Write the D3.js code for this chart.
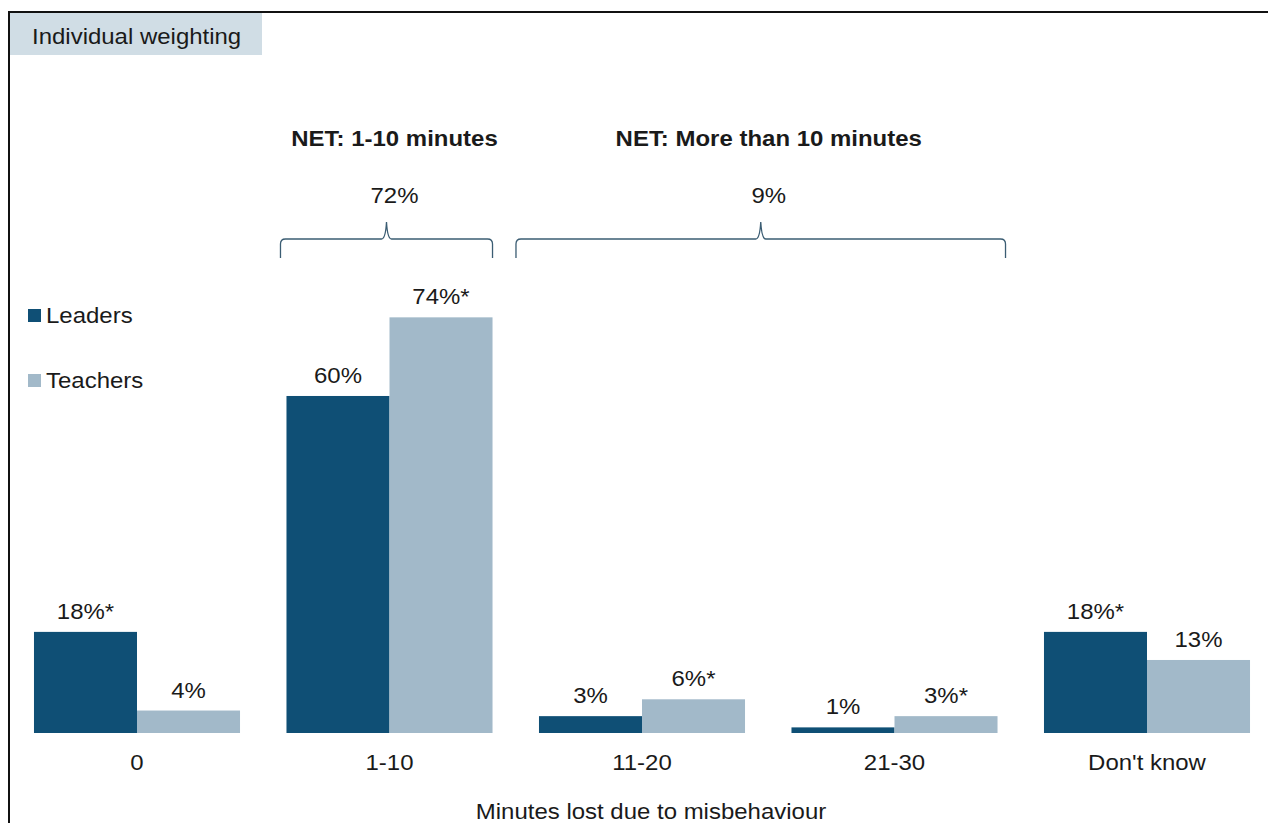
<!DOCTYPE html>
<html><head><meta charset="utf-8">
<script src="https://cdn.jsdelivr.net/npm/d3@7"></script>
<style>body{margin:0;background:#fff}svg{display:block;font-family:"Liberation Sans",Arial,sans-serif}</style>
</head><body>
<svg id="c" width="1268" height="823"></svg>
<script>
const categories = ["0", "1-10", "11-20", "21-30", "Don't know"];
const seriesNames = ["Leaders", "Teachers"];
const leaders = [18, 60, 3, 1, 18];
const teachers = [4, 74, 6, 3, 13];
const leaderLabels = ["18%*", "60%", "3%", "1%", "18%*"];
const teacherLabels = ["4%", "74%*", "6%*", "3%*", "13%"];
const nets = [
  {title: "NET: 1-10 minutes", value: "72%", from: "1-10", to: "1-10"},
  {title: "NET: More than 10 minutes", value: "9%", from: "11-20", to: "21-30"}
];
const colors = ["#0f4f75", "#a2b9c9"];
const FS = 22, SX = 1.09;

const svg = d3.select("#c");
function txt(parent, x, y, s, anchor, bold) {
  return parent.append("text").attr("transform", `translate(${x},${y}) scale(${SX},1)`)
    .attr("text-anchor", anchor || "start").attr("font-size", FS).attr("fill", "#1a1a1a")
    .attr("font-weight", bold ? "bold" : "normal").text(s);
}
// frame
svg.append("path").attr("d","M9,830 L9,12 L1275,12").attr("fill","none").attr("stroke","#111").attr("stroke-width",2);
svg.append("rect").attr("x",10).attr("y",13).attr("width",252).attr("height",42).attr("fill","#d0dde5");
txt(svg, 32, 44, "Individual weighting");

const x = d3.scaleBand().domain(categories).range([10.75, 1273.25]).paddingInner(0.184).paddingOuter(0.092);
const x1 = d3.scaleBand().domain(seriesNames).range([0, x.bandwidth()]);
const y = d3.scaleLinear().domain([0, 100]).range([733, 733 - 561.7]);

const data = categories.map((c,i)=>({c, vals:[{s:"Leaders",v:leaders[i],l:leaderLabels[i]},{s:"Teachers",v:teachers[i],l:teacherLabels[i]}]}));
const g = svg.append("g");
const grp = g.selectAll("g.grp").data(data).join("g").attr("class","grp").attr("transform",d=>`translate(${x(d.c)},0)`);
grp.selectAll("rect").data(d=>d.vals).join("rect")
  .attr("x",d=>x1(d.s)).attr("width",x1.bandwidth())
  .attr("y",d=>y(d.v)).attr("height",d=>y(0)-y(d.v))
  .attr("fill",(d,i)=>colors[i]);
grp.each(function(d){
  const gg = d3.select(this);
  d.vals.forEach(v=>txt(gg, x1(v.s)+x1.bandwidth()/2, y(v.v)-13, v.l, "middle"));
});

// x axis labels
const xAxis = d3.axisBottom(x).tickSize(0).tickPadding(0);
const ax = svg.append("g").attr("transform","translate(0,770)").call(xAxis);
ax.select(".domain").remove();
ax.selectAll("text").attr("dy",null).attr("y",0).attr("font-size",FS).attr("fill","#1a1a1a")
  .attr("font-family","Liberation Sans, Arial, sans-serif").attr("transform",`scale(${SX},1)`);
txt(svg, 651, 819, "Minutes lost due to misbehaviour", "middle");

// legend
seriesNames.forEach((s,i)=>{
  const yy = 309 + i*65;
  svg.append("rect").attr("x",28).attr("y",yy).attr("width",13).attr("height",13).attr("fill",colors[i]);
  txt(svg, 46, yy+14, s);
});

// braces
nets.forEach(n=>{
  const left = n.from===n.to ? x(n.from)-6 : x(n.from)-23;
  const right = n.from===n.to ? x(n.to)+x.bandwidth() : x(n.to)+x.bandwidth()+8;
  const mid = (left+right)/2;
  const yb = 239, yt = 222, ya = 258;
  const p = `M${left},${ya} L${left},${yb+5} Q${left},${yb} ${left+5},${yb} L${mid-5},${yb} Q${mid-1},${yb} ${mid},${yt} Q${mid+1},${yb} ${mid+5},${yb} L${right-5},${yb} Q${right},${yb} ${right},${yb+5} L${right},${ya}`;
  svg.append("path").attr("d",p).attr("fill","none").attr("stroke","#3b5d73").attr("stroke-width",1.3);
  txt(svg, mid+8, 203, n.value, "middle");
  txt(svg, mid+8, 146, n.title, "middle", true);
});
</script>
</body></html>
